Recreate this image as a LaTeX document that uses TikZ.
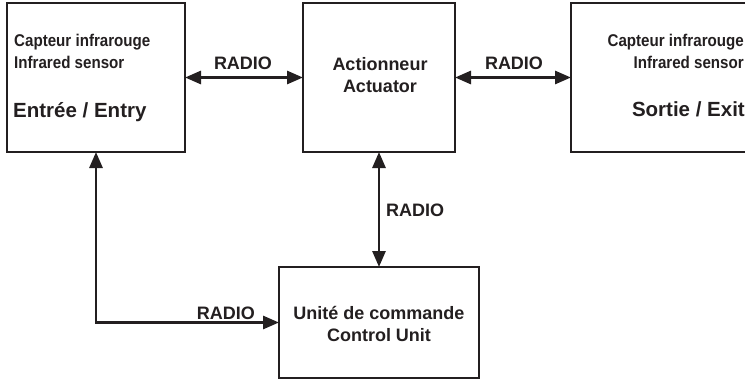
\documentclass[tikz,border=0pt]{standalone}
\usepackage{fontspec}
\setmainfont{Liberation Sans}
\newfontfamily\narrowfont{Liberation Sans}[FakeStretch=0.89]
\usetikzlibrary{arrows.meta}
\definecolor{ink}{HTML}{231F20}
\tikzset{
  blockbox/.style={draw=ink, line width=2.8pt, inner sep=0pt, outer sep=0pt},
  link/.style={draw=ink, line width=2.8pt, {Triangle[length=16pt,width=13pt]}-{Triangle[length=16pt,width=13pt]}},
  onelink/.style={draw=ink, line width=2.8pt, -{Triangle[length=16pt,width=13pt]}},
  lbl/.style={text=ink, font=\fontsize{18}{20}\selectfont\bfseries, inner sep=0pt},
  small/.style={text=ink, font=\fontsize{17}{19}\selectfont\narrowfont\bfseries, inner sep=0pt},
  big/.style={text=ink, font=\fontsize{20.5}{23}\selectfont\bfseries, inner sep=0pt},
}
\begin{document}
\begin{tikzpicture}[x=1pt,y=-1pt]
\useasboundingbox (0,0) rectangle (745,380);
\clip (0,0) rectangle (745,380);
% boxes
\node[blockbox, minimum width=178pt, minimum height=149pt] (entry) at (96,77.5) {};
\node[blockbox, minimum width=152pt, minimum height=149pt] (act) at (379,77.5) {};
\node[blockbox, minimum width=200pt, minimum height=149pt] (exit) at (671,77.5) {};
\node[blockbox, minimum width=200pt, minimum height=111pt] (cu) at (379,322.5) {};
% texts box 1
\node[small, anchor=base west] (e1) at (14,46) {Capteur infrarouge};
\node[small, anchor=base west] (e2) at (14,68) {Infrared sensor};
\node[big, anchor=base west] (e3) at (13,117) {Entrée / Entry};
% actuator
\node[lbl, anchor=base] (a1) at (380,70) {Actionneur};
\node[lbl, anchor=base] (a2) at (380,92) {Actuator};
% box 3
\node[small, anchor=base east] (x1) at (744,46) {Capteur infrarouge};
\node[small, anchor=base east] (x2) at (744,68) {Infrared sensor};
\node[big, anchor=base east] (x3) at (745,116) {Sortie / Exit};
% control unit
\node[lbl, anchor=base] (c1) at (379,319) {Unité de commande};
\node[lbl, anchor=base] (c2) at (379,341) {Control Unit};
% connectors
\draw[link] (entry.east) -- (act.west);
\draw[link] (act.east) -- (exit.west);
\draw[link] (act.south) -- (cu.north);
\draw[link] (entry.south) |- (cu.west);
% labels
\node[lbl, anchor=base] (r1) at (243,69) {RADIO};
\node[lbl, anchor=base] (r2) at (514,69) {RADIO};
\node[lbl, anchor=base west] (r3) at (386,216) {RADIO};
\node[lbl, anchor=base east] (r4) at (255,319) {RADIO};
\end{tikzpicture}
\end{document}
